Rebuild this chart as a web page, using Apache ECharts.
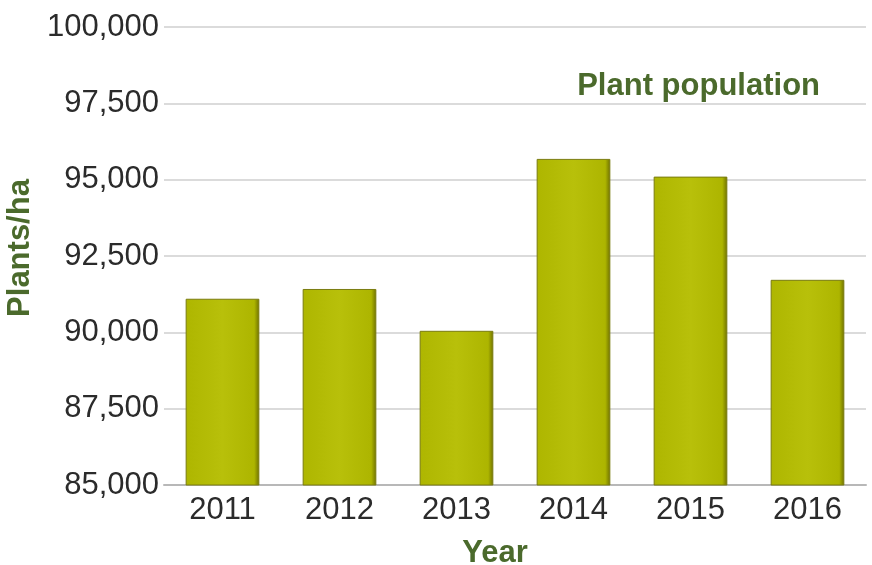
<!DOCTYPE html>
<html><head><meta charset="utf-8">
<script src="https://cdn.jsdelivr.net/npm/echarts@6/dist/echarts.min.js"></script>
<style>html,body{margin:0;padding:0;background:#fff}#c{width:872px;height:565px}</style>
</head><body><div id="c"></div>
<script>
const years = ['2011','2012','2013','2014','2015','2016'];
const plants = [91100, 91420, 90050, 95680, 95100, 91720];
const yTicks = [85000, 87500, 90000, 92500, 95000, 97500, 100000];

const FONT = 'Liberation Sans, Arial, sans-serif';
const chart = echarts.init(document.getElementById('c'));
chart.setOption({
  animation: false,
  backgroundColor: '#fff',
  title: {
    text: 'Plant population', right: 47, top: 66,
    textStyle: {fontFamily: FONT, fontWeight: 'bold', fontSize: 31, color: '#4b6a2c'}
  },
  grid: {left: 164, right: 6, top: 27, bottom: 80, outerBoundsMode: 'none', containLabel: false},
  xAxis: {
    type: 'category', data: years,
    name: 'Year', nameLocation: 'middle', nameGap: 53,
    nameTextStyle: {fontFamily: FONT, fontWeight: 'bold', fontSize: 31, color: '#4b6a2c', padding: [0, 40, 0, 0]},
    axisLine: {lineStyle: {color: '#b8b8b8', width: 2}},
    axisTick: {show: false},
    axisLabel: {fontFamily: FONT, fontSize: 31, color: '#2b2b2b', margin: 10}
  },
  yAxis: {
    type: 'value', min: yTicks[0], max: yTicks[yTicks.length-1], interval: 2500,
    name: 'Plants/ha', nameLocation: 'middle', nameGap: 118, nameRotate: 90,
    nameTextStyle: {fontFamily: FONT, fontWeight: 'bold', fontSize: 31, color: '#4b6a2c', padding: [0, 0, 0, 16]},
    axisLine: {show: false}, axisTick: {show: false},
    splitLine: {lineStyle: {color: '#cfcfcf', width: 1.5}},
    axisLabel: {fontFamily: FONT, fontSize: 31, color: '#2b2b2b', margin: 5,
      formatter: v => v.toLocaleString('en-US')}
  },
  series: [{
    type: 'bar', data: plants, barWidth: '63%',
    itemStyle: {
      color: {type: 'linear', x: 0, y: 0, x2: 1, y2: 0, colorStops: [
        {offset: 0, color: '#aeb600'}, {offset: 0.5, color: '#b8c00a'}, {offset: 0.93, color: '#adb500'}, {offset: 1, color: '#6e7000'}]},
      borderColor: '#7a7c10', borderWidth: 1
    }
  }]
});
</script></body></html>
